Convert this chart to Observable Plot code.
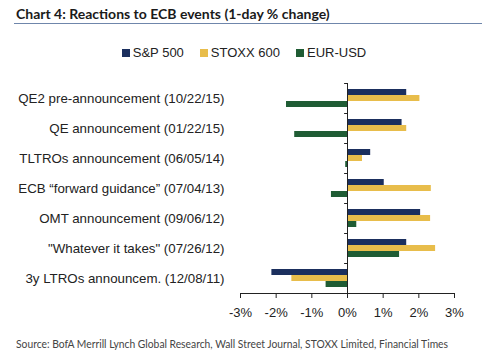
<!DOCTYPE html>
<html>
<head>
<meta charset="utf-8">
<script src="https://cdn.jsdelivr.net/npm/d3@7"></script>
<script src="https://cdn.jsdelivr.net/npm/@observablehq/plot@0.6"></script>
<style>
  html, body { margin: 0; padding: 0; background: #fff; }
  #wrap { position: relative; width: 488px; height: 357px; overflow: hidden; background: #fff; }
  #title { position: absolute; left: 16px; top: 5px; font-family: Lato, "Open Sans", sans-serif; font-weight: 700; font-size: 14px; color: #1a1a1a; white-space: nowrap; }
  #rule { position: absolute; left: 14px; top: 23px; width: 468px; height: 0; border-top: 1.5px solid #6f86ab; }
  #legend { position: absolute; left: 0; width: 488px; top: 45px; text-align: center; font-family: "Liberation Sans", Arial, sans-serif; font-size: 13px; color: #222; white-space: nowrap; }
  #legend span.item { display: inline-block; margin: 0 8px; }
  #legend span.sw { display: inline-block; width: 8px; height: 8px; margin-right: 3px; vertical-align: 0px; }
  #chart { position: absolute; left: 0; top: 62px; }
  #source { position: absolute; left: 16px; top: 337px; font-family: Lato, sans-serif; font-size: 11.5px; color: #444; white-space: nowrap; transform-origin: 0 50%; }
</style>
</head>
<body>
<div id="wrap">
  <div id="title">Chart 4: Reactions to ECB events (1-day % change)</div>
  <div id="rule"></div>
  <div id="legend"></div>
  <div id="chart"></div>
  <div id="source">Source: BofA Merrill Lynch Global Research, Wall Street Journal, STOXX Limited, Financial Times</div>
</div>
<script>
const events = [
  "QE2 pre-announcement (10/22/15)",
  "QE announcement (01/22/15)",
  "TLTROs announcement (06/05/14)",
  "ECB \u201cforward guidance\u201d (07/04/13)",
  "OMT announcement (09/06/12)",
  "\"Whatever it takes\" (07/26/12)",
  "3y LTROs announcem. (12/08/11)"
];
const series = ["S&P 500", "STOXX 600", "EUR-USD"];
const sp500    = [1.66, 1.53, 0.65, 1.03, 2.05, 1.66, -2.12];
const stoxx600 = [2.03, 1.66, 0.42, 2.35, 2.33, 2.47, -1.56];
const eurusd   = [-1.71, -1.48, -0.05, -0.45, 0.26, 1.46, -0.60];
const xTicks = [-3, -2, -1, 0, 1, 2, 3];
const colors = ["#1b2f5e", "#e8bd4b", "#1f5c34"];

const valuesBySeries = [sp500, stoxx600, eurusd];
const rows = [];
events.forEach((e, i) => {
  series.forEach((s, j) => rows.push({event: e, series: s, value: valuesBySeries[j][i]}));
});

// legend
const legend = document.getElementById("legend");
series.forEach((s, j) => {
  const item = document.createElement("span");
  item.className = "item";
  const sw = document.createElement("span");
  sw.className = "sw";
  sw.style.background = colors[j];
  item.appendChild(sw);
  item.appendChild(document.createTextNode(s));
  legend.appendChild(item);
});

// narrow the source line to the reference's width (condensed face)
const src = document.getElementById("source");
const w = src.getBoundingClientRect().width;
const targetW = 432;
if (w > targetW) src.style.transform = "scaleX(" + (targetW / w) + ")";

const tickShape = {draw(context, l) { context.moveTo(0, 0); context.lineTo(0, -l); }};

const chart = Plot.plot({
  width: 488,
  height: 264,
  marginLeft: 240,
  marginRight: 34,
  marginTop: 20,
  marginBottom: 33,
  style: {fontFamily: "'Liberation Sans', Arial, sans-serif", fontSize: "13px", color: "#222", background: "transparent"},
  x: {domain: [-3, 3]},
  y: {domain: series, paddingInner: 0, paddingOuter: 0.75, axis: null},
  fy: {domain: events, padding: 0},
  color: {domain: series, range: colors},
  marks: [
    Plot.barX(rows, {x: "value", y: "series", fy: "event", fill: "series"}),
    Plot.ruleX([0], {stroke: "#222", strokeWidth: 1}),
    Plot.vector(events, {fy: d => d, x: () => 0, frameAnchor: "top", length: 3, rotate: -90, anchor: "start", shape: tickShape, stroke: "#222", strokeWidth: 1}),
    Plot.frame({anchor: "bottom", facetAnchor: "bottom", stroke: "#222"}),
    Plot.axisX({ticks: xTicks, tickFormat: d => d + "%", tickSize: 5, tickPadding: 9, label: null, stroke: "#222"}),
    Plot.axisFy({anchor: "left", tickSize: 0, tickPadding: 16, label: null, fontSize: 13.3})
  ]
});
document.getElementById("chart").appendChild(chart);
</script>
</body>
</html>
